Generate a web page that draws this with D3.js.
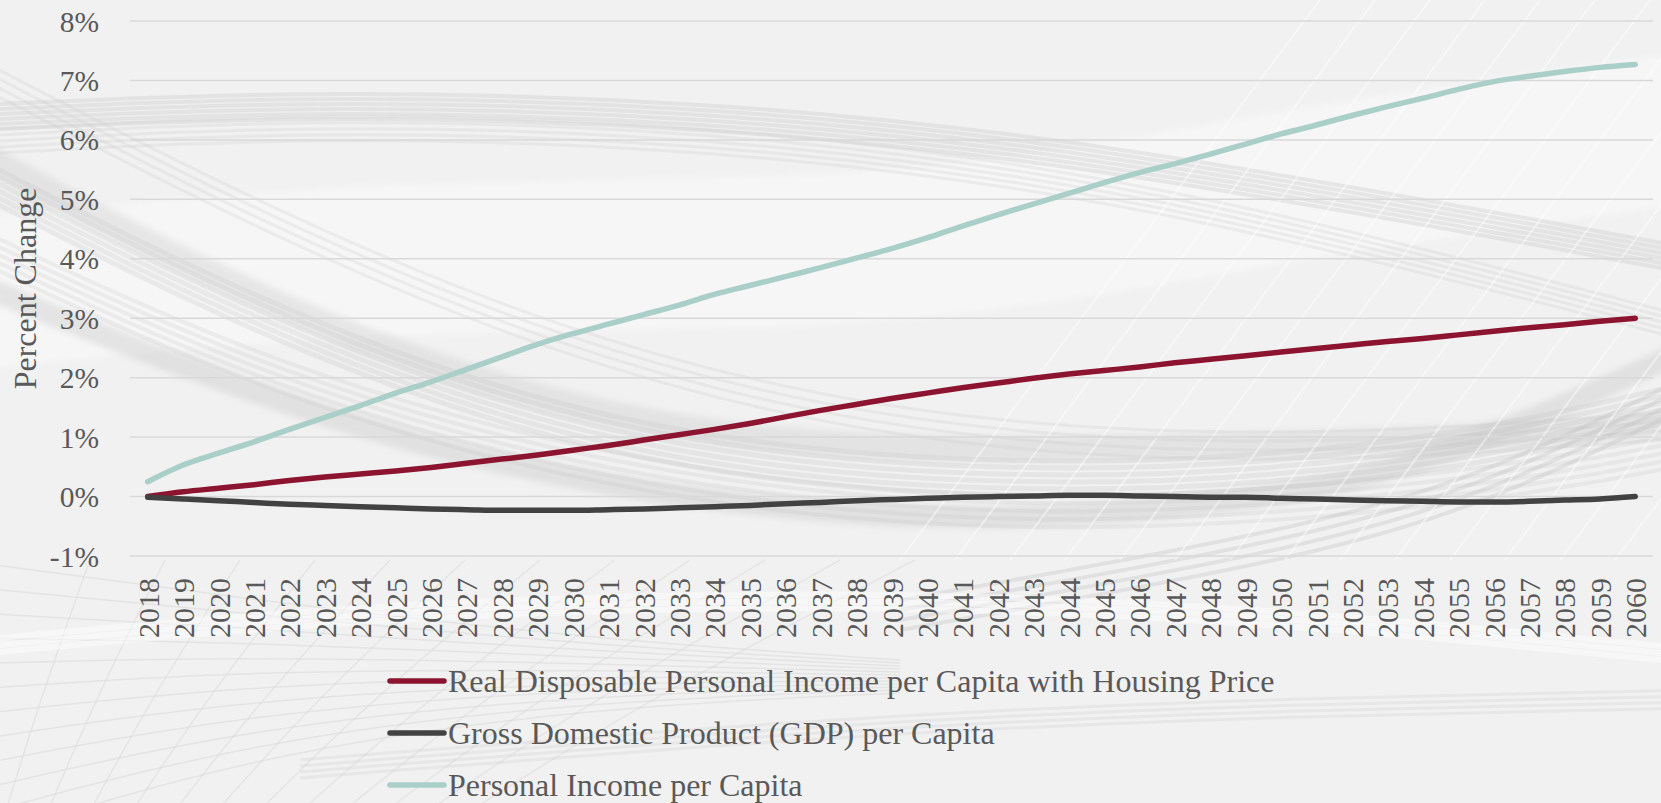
<!DOCTYPE html>
<html>
<head>
<meta charset="utf-8">
<script src="https://cdn.jsdelivr.net/npm/d3@7"></script>
<style>
  html, body { margin: 0; padding: 0; background: #f1f1f1; }
  svg { display: block; }
  text { font-family: "Liberation Serif", "Times New Roman", serif; fill: #595959; }
</style>
</head>
<body>
<svg id="chart" width="1661" height="803"></svg>
<script>
// ---- data ----
const years = d3.range(2018, 2061).map(String);

const realDisposable = [
  0.00, 0.08, 0.14, 0.20, 0.27, 0.33, 0.38, 0.43, 0.49, 0.56,
  0.63, 0.70, 0.78, 0.86, 0.95, 1.04, 1.13, 1.23, 1.34, 1.45,
  1.55, 1.65, 1.74, 1.83, 1.91, 1.99, 2.06, 2.12, 2.18, 2.25,
  2.31, 2.37, 2.43, 2.49, 2.55, 2.61, 2.66, 2.72, 2.78, 2.84,
  2.89, 2.95, 3.00
];

const gdpPerCapita = [
  -0.01, -0.04, -0.07, -0.10, -0.13, -0.15, -0.17, -0.19, -0.21, -0.22,
  -0.23, -0.23, -0.23, -0.22, -0.21, -0.19, -0.17, -0.15, -0.12, -0.10,
  -0.07, -0.05, -0.03, -0.01, 0.00, 0.01, 0.02, 0.02, 0.01, 0.00,
  -0.01, -0.01, -0.03, -0.04, -0.06, -0.07, -0.08, -0.09, -0.09, -0.08,
  -0.06, -0.04, 0.00
];

const personalIncome = [
  0.25, 0.53, 0.73, 0.92, 1.13, 1.33, 1.53, 1.74, 1.93, 2.14,
  2.35, 2.56, 2.74, 2.90, 3.06, 3.22, 3.40, 3.55, 3.70, 3.85,
  4.01, 4.17, 4.35, 4.55, 4.74, 4.92, 5.10, 5.28, 5.45, 5.60,
  5.76, 5.93, 6.10, 6.25, 6.41, 6.56, 6.70, 6.85, 6.98, 7.07,
  7.15, 7.22, 7.27
];

const yTicks = [-1, 0, 1, 2, 3, 4, 5, 6, 7, 8];

const seriesList = [
  { name: "Real Disposable Personal Income per Capita with Housing Price", values: realDisposable, color: "#8c1430" },
  { name: "Gross Domestic Product (GDP) per Capita", values: gdpPerCapita, color: "#424242" },
  { name: "Personal Income per Capita", values: personalIncome, color: "#a9cfc8" }
];

// ---- layout ----
const W = 1661, H = 803;
const plot = { left: 130, right: 1653, top: 21, bottom: 556 };

const svg = d3.select("#chart");

// ---- decorative backdrop: soft grey swooshes ----
const bg = svg.append("g").attr("class", "backdrop");
bg.append("rect").attr("width", W).attr("height", H).attr("fill", "#f1f1f1");

const soft = svg.append("defs").append("filter").attr("id", "soft")
  .attr("filterUnits", "userSpaceOnUse")
  .attr("x", -100).attr("y", -100).attr("width", W + 200).attr("height", H + 200);
soft.append("feGaussianBlur").attr("stdDeviation", 3);

const swoosh = d3.line().curve(d3.curveBasis);

function bundle(pts, count, gap, color, width, opacity) {
  for (let i = 0; i < count; i++) {
    bg.append("path")
      .attr("d", swoosh(pts.map(p => [p[0], p[1] + i * gap])))
      .attr("fill", "none")
      .attr("stroke", color)
      .attr("stroke-width", width)
      .attr("stroke-opacity", opacity);
  }
}

// light highlight across the middle
bg.append("path")
  .attr("d", swoosh([[-80, 300], [400, 250], [900, 260], [1300, 180], [1750, 120]]))
  .attr("fill", "none").attr("stroke", "#fafafa").attr("stroke-width", 150)
  .attr("stroke-opacity", 0.6).attr("filter", "url(#soft)");

// upper band crossing from the left
bundle([[-20, 105], [300, 90], [700, 100], [1100, 140], [1700, 250]], 6, 5, "#c9c9c9", 4, 0.35);
bundle([[-20, 130], [350, 110], [800, 130], [1200, 190], [1700, 320]], 5, 6, "#d0d0d0", 3, 0.3);

// long sweeps from the upper left into the lower middle
bundle([[-20, 160], [250, 300], [600, 430], [1000, 470], [1400, 450], [1700, 380]], 6, 7, "#c4c4c4", 5, 0.25);
bundle([[-20, 230], [300, 380], [700, 480], [1100, 505], [1500, 470], [1700, 430]], 5, 8, "#cbcbcb", 4, 0.25);
bundle([[-20, 60], [250, 200], [550, 330], [900, 420], [1300, 440], [1700, 410]], 4, 9, "#d2d2d2", 3, 0.3);

// wider darker bands sweeping down from the upper left and out to the right
bg.append("path")
  .attr("d", swoosh([[-80, 120], [300, 330], [700, 450], [1100, 450], [1450, 440], [1750, 420]]))
  .attr("fill", "none").attr("stroke", "#c8c8c8").attr("stroke-width", 26)
  .attr("stroke-opacity", 0.35).attr("filter", "url(#soft)");
bg.append("path")
  .attr("d", swoosh([[-80, 260], [400, 460], [900, 530], [1250, 505], [1450, 460], [1750, 320]]))
  .attr("fill", "none").attr("stroke", "#c4c4c4").attr("stroke-width", 22)
  .attr("stroke-opacity", 0.35).attr("filter", "url(#soft)");

// upward sweep at the right edge
bundle([[900, 600], [1300, 530], [1500, 470], [1700, 370]], 4, 10, "#bdbdbd", 4, 0.3);

// thin diagonal strands in the upper right
for (let i = 0; i < 14; i++) {
  const x0 = 900 + i * 55;
  bg.append("line")
    .attr("x1", x0).attr("y1", 560).attr("x2", x0 + 420).attr("y2", 0)
    .attr("stroke", "#ffffff").attr("stroke-width", 2).attr("stroke-opacity", 0.45);
}

// curved grid strands in the lower left
for (let i = 0; i < 12; i++) {
  bg.append("path")
    .attr("d", swoosh([[-40, 560 + i * 26], [250, 600 + i * 14], [600, 640 + i * 6], [900, 660 + i * 3]]))
    .attr("fill", "none").attr("stroke", "#d4d4d4").attr("stroke-width", 1.5).attr("stroke-opacity", 0.45);
}
for (let i = 0; i < 12; i++) {
  bg.append("path")
    .attr("d", swoosh([[i * 40, 830], [40 + i * 55, 700], [90 + i * 75, 560]]))
    .attr("fill", "none").attr("stroke", "#d6d6d6").attr("stroke-width", 1.5).attr("stroke-opacity", 0.45);
}

// lower sweeping bands under the legend
bundle([[300, 760], [800, 720], [1200, 700], [1700, 690]], 4, 6, "#d3d3d3", 3, 0.35);
bundle([[-20, 640], [400, 600], [900, 590], [1300, 610], [1700, 650]], 3, 7, "#ffffff", 6, 0.45);

// ---- scales ----
const x = d3.scalePoint().domain(years).range([plot.left, plot.right]).padding(0.5);
const y = d3.scaleLinear().domain([-1, 8]).range([plot.bottom, plot.top]);

// ---- gridlines ----
svg.append("g").attr("class", "grid")
  .selectAll("line").data(yTicks).join("line")
  .attr("x1", plot.left).attr("x2", plot.right)
  .attr("y1", d => y(d)).attr("y2", d => y(d))
  .attr("stroke", "#d9d9d9").attr("stroke-width", 1.5);

// ---- y axis ----
const yAxis = d3.axisLeft(y).tickValues(yTicks).tickFormat(d => d + "%").tickSize(0).tickPadding(0);
const yG = svg.append("g").attr("transform", `translate(99,0)`).call(yAxis);
yG.select(".domain").remove();
yG.selectAll("text")
  .attr("x", 0).attr("dy", null).attr("dominant-baseline", "central")
  .style("font-family", '"Liberation Serif", "Times New Roman", serif')
  .style("font-size", "29.5px").style("fill", "#595959");

// ---- x axis ----
const xAxis = d3.axisBottom(x).tickSize(0).tickPadding(0);
const xG = svg.append("g").attr("transform", `translate(0,${plot.bottom})`).call(xAxis);
xG.select(".domain").remove();
xG.selectAll("text")
  .attr("transform", "translate(0,22) rotate(-90)")
  .attr("x", 0).attr("y", 0).attr("dy", "0.35em")
  .attr("text-anchor", "end")
  .style("font-family", '"Liberation Serif", "Times New Roman", serif')
  .style("font-size", "30px").style("fill", "#595959");

// ---- axis title ----
svg.append("text")
  .attr("transform", `translate(25,${(plot.top + plot.bottom) / 2}) rotate(-90)`)
  .attr("text-anchor", "middle").attr("dominant-baseline", "central")
  .style("font-size", "32px")
  .text("Percent Change");

// ---- lines ----
const line = d3.line()
  .x((d, i) => x(years[i]))
  .y(d => y(d))
  .curve(d3.curveMonotoneX);

svg.append("g").attr("class", "series")
  .selectAll("path").data(seriesList).join("path")
  .attr("d", d => line(d.values))
  .attr("fill", "none")
  .attr("stroke", d => d.color)
  .attr("stroke-width", 5.5)
  .attr("stroke-linecap", "round")
  .attr("stroke-linejoin", "round");

// ---- legend ----
const legend = svg.append("g").attr("class", "legend");
const rows = legend.selectAll("g").data(seriesList).join("g")
  .attr("transform", (d, i) => `translate(390,${681 + i * 52})`);
rows.append("line")
  .attr("x1", 0).attr("x2", 54).attr("y1", 0).attr("y2", 0)
  .attr("stroke", d => d.color).attr("stroke-width", 5.5).attr("stroke-linecap", "round");
rows.append("text")
  .attr("x", 58).attr("y", 0).attr("dominant-baseline", "central")
  .style("font-size", "32px")
  .text(d => d.name);
</script>
</body>
</html>
